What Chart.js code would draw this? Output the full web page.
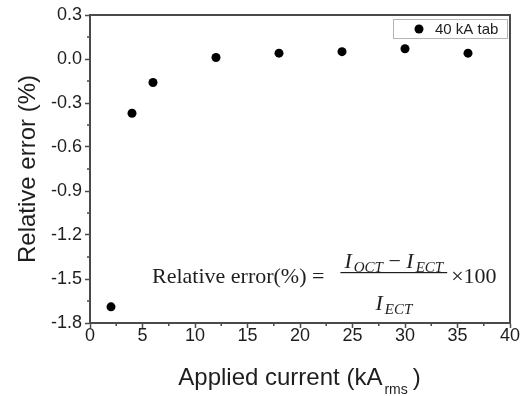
<!DOCTYPE html>
<html>
<head>
<meta charset="utf-8">
<script src="https://cdn.jsdelivr.net/npm/chart.js@4.4.1/dist/chart.umd.min.js"></script>
<style>
  html, body { margin: 0; padding: 0; background: #fff; }
  #wrap { width: 528px; height: 396px; }
</style>
</head>
<body>
<div id="wrap"><canvas id="errChart" width="528" height="396"></canvas></div>
<script>
// data
const currents = [2, 4, 6, 12, 18, 24, 30, 36];
const relErrors = [-1.69, -0.37, -0.16, 0.01, 0.04, 0.05, 0.07, 0.04];
const seriesLabel = '40 kA tab';
const xTicks = [0, 5, 10, 15, 20, 25, 30, 35, 40];
const yTicks = [-1.8, -1.5, -1.2, -0.9, -0.6, -0.3, 0.0, 0.3];

const SANS = '"Liberation Sans", Arial, sans-serif';
const SERIF = '"Liberation Serif", "Times New Roman", serif';
const INK = '#1e1e1e';
const AXIS = '#4a4a4a';

// minor ticks, box, titles, legend and formula
const decorPlugin = {
    id: 'decor',
    afterDraw(chart) {
        const ctx = chart.ctx;
        const area = chart.chartArea;
        const xs = chart.scales.x;
        const ys = chart.scales.y;
        ctx.save();

        // top + right frame
        ctx.strokeStyle = AXIS;
        ctx.lineWidth = 2;
        ctx.beginPath();
        ctx.moveTo(area.left, area.top);
        ctx.lineTo(area.right, area.top);
        ctx.lineTo(area.right, area.bottom);
        ctx.stroke();

        // minor ticks halfway between majors
        ctx.lineWidth = 1.5;
        ctx.beginPath();
        for (let i = 0; i < xTicks.length - 1; i++) {
            const px = xs.getPixelForValue((xTicks[i] + xTicks[i + 1]) / 2);
            ctx.moveTo(px, area.bottom);
            ctx.lineTo(px, area.bottom + 3);
        }
        for (let i = 0; i < yTicks.length - 1; i++) {
            const py = ys.getPixelForValue((yTicks[i] + yTicks[i + 1]) / 2);
            ctx.moveTo(area.left, py);
            ctx.lineTo(area.left - 3, py);
        }
        ctx.stroke();

        ctx.fillStyle = INK;

        // y title
        ctx.save();
        ctx.translate(35, (area.top + area.bottom) / 2);
        ctx.rotate(-Math.PI / 2);
        ctx.font = '24px ' + SANS;
        ctx.textAlign = 'center';
        ctx.textBaseline = 'alphabetic';
        ctx.fillText('Relative error (%)', 0, 0);
        ctx.restore();

        // x title with subscript
        const mainX = 'Applied current (kA';
        ctx.font = '24px ' + SANS;
        const w1 = ctx.measureText(mainX).width;
        ctx.font = '14px ' + SANS;
        const w2 = ctx.measureText('rms').width;
        ctx.font = '24px ' + SANS;
        const w3 = ctx.measureText(')').width;
        let tx = (area.left + area.right) / 2 - (w1 + w2 + w3 + 8) / 2;
        const tb = area.bottom + 62;
        ctx.textAlign = 'left';
        ctx.fillText(mainX, tx, tb);
        tx += w1;
        ctx.font = '14px ' + SANS;
        ctx.fillText('rms', tx + 2, tb + 9);
        tx += w2 + 7;
        ctx.font = '24px ' + SANS;
        ctx.fillText(')', tx, tb);

        // legend box
        const lx = area.right - 117, ly = area.top + 4;
        ctx.strokeStyle = '#b4b4b4';
        ctx.lineWidth = 1;
        ctx.strokeRect(lx + 0.5, ly + 0.5, 114, 19);
        ctx.beginPath();
        ctx.arc(lx + 26, ly + 10, 4.5, 0, Math.PI * 2);
        ctx.fillStyle = '#000';
        ctx.fill();
        ctx.fillStyle = INK;
        ctx.font = '15px ' + SANS;
        ctx.textBaseline = 'middle';
        ctx.fillText(chart.data.datasets[0].label, lx + 42, ly + 10.5);
        ctx.textBaseline = 'alphabetic';

        // formula
        const base = area.bottom - 40;
        let fx = area.left + 62;
        ctx.font = '22px ' + SERIF;
        const lead = 'Relative error(%) =';
        ctx.fillText(lead, fx, base);
        fx += ctx.measureText(lead).width + 16;

        const SUB = 'italic 15px ';
        const drawVar = (x, y, sub) => {
            ctx.font = 'italic 22px ' + SERIF;
            ctx.fillText('I', x, y);
            let w = ctx.measureText('I').width + 2;
            ctx.font = SUB + SERIF;
            ctx.fillText(sub, x + w, y + 4);
            return w + ctx.measureText(sub).width;
        };
        const measVar = (sub) => {
            ctx.font = 'italic 22px ' + SERIF;
            let w = ctx.measureText('I').width + 2;
            ctx.font = SUB + SERIF;
            return w + ctx.measureText(sub).width;
        };
        ctx.font = '22px ' + SERIF;
        const minusW = ctx.measureText(' \u2212 ').width;
        const numW = measVar('OCT') + minusW + measVar('ECT');
        const denW = measVar('ECT');
        const fracW = numW + 8;
        // bar
        ctx.fillRect(fx, base - 11, fracW, 1.2);
        let nx = fx + (fracW - numW) / 2;
        nx += drawVar(nx, base - 15, 'OCT');
        ctx.font = '22px ' + SERIF;
        ctx.fillText(' \u2212 ', nx, base - 15);
        nx += minusW;
        drawVar(nx, base - 15, 'ECT');
        drawVar(fx + (fracW - denW) / 2, base + 27, 'ECT');
        ctx.font = '22px ' + SERIF;
        ctx.fillText('\u00d7100', fx + fracW + 4, base);

        ctx.restore();
    }
};

const ctx = document.getElementById('errChart').getContext('2d');
new Chart(ctx, {
    type: 'scatter',
    data: {
        datasets: [{
            label: seriesLabel,
            data: currents.map((c, i) => ({ x: c, y: relErrors[i] })),
            pointRadius: 4.5,
            pointHoverRadius: 4.5,
            backgroundColor: '#000',
            borderColor: '#000',
            borderWidth: 0
        }]
    },
    options: {
        responsive: false,
        animation: false,
        layout: { padding: { top: 15, right: 18, left: 0, bottom: 0 } },
        plugins: {
            legend: { display: false },
            tooltip: { enabled: false }
        },
        scales: {
            x: {
                type: 'linear',
                min: 0,
                max: 40,
                afterBuildTicks: (s) => { s.ticks = xTicks.map(v => ({ value: v })); },
                afterFit: (s) => { s.height = 73; },
                ticks: {
                    color: INK,
                    font: { family: SANS, size: 18 },
                    padding: -3,
                    maxRotation: 0,
                    autoSkip: false
                },
                grid: { drawOnChartArea: false, drawTicks: true, tickLength: 5, tickColor: AXIS, tickWidth: 1.5 },
                border: { color: AXIS, width: 2 }
            },
            y: {
                type: 'linear',
                min: -1.8,
                max: 0.3,
                afterBuildTicks: (s) => { s.ticks = yTicks.map(v => ({ value: v })); },
                afterFit: (s) => { s.width = 90; },
                ticks: {
                    color: INK,
                    font: { family: SANS, size: 18 },
                    padding: 3,
                    autoSkip: false,
                    callback: (v) => Number(v).toFixed(1)
                },
                grid: { drawOnChartArea: false, drawTicks: true, tickLength: 5, tickColor: AXIS, tickWidth: 1.5 },
                border: { color: AXIS, width: 2 }
            }
        }
    },
    plugins: [decorPlugin]
});
</script>
</body>
</html>
